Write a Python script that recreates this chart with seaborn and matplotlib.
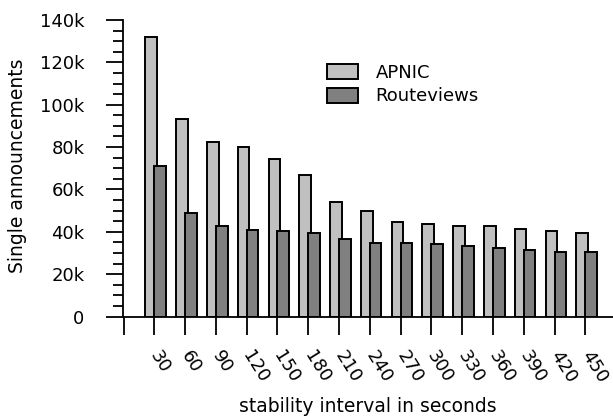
import numpy as np
import pandas as pd
import matplotlib
matplotlib.use("Agg")
import matplotlib.pyplot as plt
from matplotlib.ticker import MultipleLocator, FuncFormatter
import seaborn as sns

intervals = [30, 60, 90, 120, 150, 180, 210, 240, 270, 300, 330, 360, 390, 420, 450]
apnic = [132000, 93200, 82500, 79900, 74600, 66700, 54200, 49900, 44800, 43900, 42800, 42800, 41100, 40300, 39400]
routeviews = [71000, 48900, 42800, 41000, 40200, 39200, 36500, 34900, 34900, 34000, 33200, 32300, 31500, 30500, 30500]
series_names = ["APNIC", "Routeviews"]
colors = ["#c0c0c0", "#808080"]

df = pd.DataFrame({
    "interval": [str(v) for v in intervals] * 2,
    "value": apnic + routeviews,
    "source": [series_names[0]] * len(intervals) + [series_names[1]] * len(intervals),
})

sns.set_style("ticks")
plt.rcParams["font.family"] = ["DejaVu Sans"]
plt.rcParams["text.color"] = "black"
plt.rcParams["axes.labelcolor"] = "black"
plt.rcParams["xtick.color"] = "black"
plt.rcParams["ytick.color"] = "black"
FS = 13

fig = plt.figure(figsize=(6.13, 4.19), dpi=100)
ax = fig.add_axes([123.5 / 613, 1 - 316.5 / 419, 1 - 123.5 / 613, (316.5 - 20) / 419])

sns.barplot(data=df, x="interval", y="value", hue="source",
            order=[str(v) for v in intervals], hue_order=series_names,
            palette=colors, dodge=True, width=0.76, edgecolor="black",
            linewidth=1.4, saturation=1, ax=ax, legend=True)

# small overlap of APNIC bars onto Routeviews bars
for p in ax.containers[0]:
    p.set_x(p.get_x() + 0.09)
for p in ax.containers[1]:
    p.set_zorder(3)

ax.set_xlim(-1, 14.9)
ax.set_ylim(0, 140000)
ax.set_xticks(range(-1, len(intervals)))
ax.set_xticklabels([""] + [str(v) for v in intervals], rotation=-58,
                   ha="left", va="center", rotation_mode="anchor", fontsize=FS)
ax.yaxis.set_major_locator(MultipleLocator(20000))
ax.yaxis.set_minor_locator(MultipleLocator(5000))
ax.yaxis.set_major_formatter(FuncFormatter(lambda v, p: "0" if v == 0 else f"{int(v/1000)}k"))
ax.tick_params(axis="y", which="major", length=12, width=1.3, pad=16, labelsize=FS, colors="black")
ax.tick_params(axis="y", which="minor", length=7, width=1.3, colors="black")
ax.tick_params(axis="x", which="major", length=13, width=1.3, pad=13, labelsize=FS, colors="black")
for s in ["left", "bottom"]:
    ax.spines[s].set_linewidth(1.3)
    ax.spines[s].set_color("black")
sns.despine(ax=ax)

ax.set_xlabel("stability interval in seconds", fontsize=13.5)
ax.set_ylabel("Single announcements", fontsize=13.5)
ax.xaxis.set_label_coords((368 - 123.5) / 490, -(407 - 316.5) / 296.5)
ax.yaxis.set_label_coords(-(124 - 18) / 490, (316.5 - 166) / 296.5)
ax.xaxis.label.set_va("center")
ax.yaxis.label.set_va("center")

leg = ax.legend(loc="upper left", bbox_to_anchor=((327 - 123.5) / 490, (316.5 - 64) / 296.5),
                frameon=False, fontsize=FS, handlelength=1.75, handleheight=0.9,
                handletextpad=0.95, labelspacing=0.3, borderpad=0, borderaxespad=0)
for t in leg.get_texts():
    t.set_color("black")

fig.savefig("out.png", dpi=100)
